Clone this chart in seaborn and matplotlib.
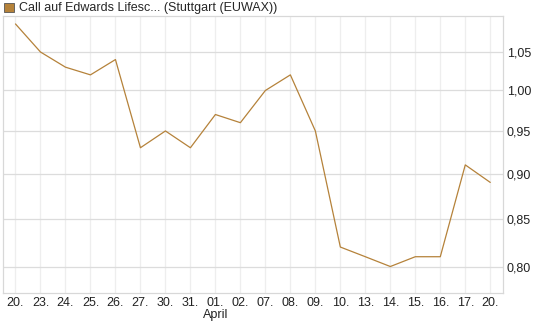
import numpy as np
import pandas as pd
import matplotlib
matplotlib.use("Agg")
import matplotlib.pyplot as plt
import seaborn as sns
from matplotlib.patches import Patch
from matplotlib.ticker import FixedLocator, FuncFormatter, NullLocator

# trading days (March 20 - April 20), evenly spaced on the axis
day_labels = ["20.", "23.", "24.", "25.", "26.", "27.", "30.", "31.", "01.", "02.",
              "07.", "08.", "09.", "10.", "13.", "14.", "15.", "16.", "17.", "20."]
prices = [1.088, 1.05, 1.03, 1.02, 1.04, 0.93, 0.95, 0.93, 0.97, 0.96,
          1.00, 1.02, 0.95, 0.82, 0.81, 0.80, 0.81, 0.81, 0.91, 0.89]
y_ticks = [0.80, 0.85, 0.90, 0.95, 1.00, 1.05]
series_name = "Call auf Edwards Lifesc... (Stuttgart (EUWAX))"

line_color = "#b5823a"

df = pd.DataFrame({"pos": np.arange(len(prices)), "price": prices})

sns.set_style("white")
plt.rcParams["font.family"] = ["Liberation Sans", "DejaVu Sans"]

fig = plt.figure(figsize=(5.45, 3.27), dpi=100)
ax = fig.add_axes([0.0055, 0.104, 0.917, 0.847])

sns.lineplot(data=df, x="pos", y="price", ax=ax, color=line_color, linewidth=0.9)

ax.set_yscale("log")
ax.set_ylim(0.7736, 1.099)
ax.set_xlim(-0.5, len(prices) - 0.5)

ax.yaxis.set_major_locator(FixedLocator(y_ticks))
ax.yaxis.set_minor_locator(NullLocator())
ax.yaxis.set_major_formatter(FuncFormatter(lambda v, p: f"{v:.2f}".replace(".", ",")))
ax.yaxis.tick_right()
ax.set_xticks(df["pos"])
ax.set_xticklabels(day_labels)
ax.tick_params(axis="both", length=0, labelsize=9, colors="#222222")
ax.tick_params(axis="x", pad=3)
ax.tick_params(axis="y", pad=3)

ax.grid(axis="y", color="#dcdcdc", linewidth=0.9)
ax.grid(axis="x", color="#eeeeee", linewidth=0.9)
ax.set_axisbelow(True)
for sp in ax.spines.values():
    sp.set_color("#d8d8d8")
    sp.set_linewidth(0.9)

ax.set_xlabel("")
ax.set_ylabel("")

# month marker under the first April day
ax.annotate("April", xy=(day_labels.index("01."), 0), xycoords=("data", "axes fraction"),
            xytext=(0, -11.5), textcoords="offset points", ha="center", va="top",
            fontsize=9, color="#222222")

handle = Patch(facecolor=line_color, edgecolor="#555555", linewidth=0.6)
fig.legend([handle], [series_name], loc="upper left", bbox_to_anchor=(0.003, 1.0),
           frameon=False, fontsize=9, handlelength=0.75, handleheight=0.75,
           handletextpad=0.4, borderaxespad=0.0, borderpad=0.2)

fig.savefig("out.png", dpi=100)
